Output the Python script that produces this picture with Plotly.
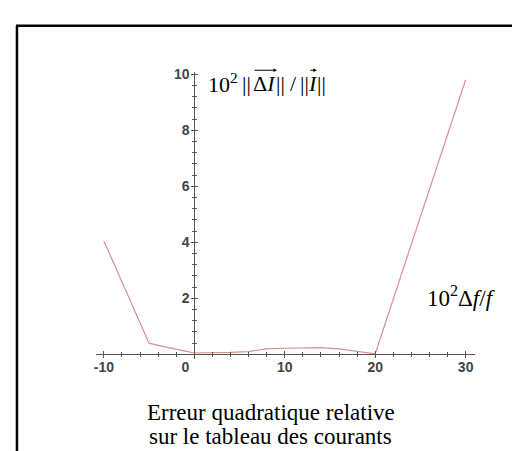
import plotly.graph_objects as go

# Data
x_vals = [-10, -5, -4, -2, -1, 0, 2, 4, 6, 8, 10, 12, 14, 16, 18, 20, 30]
y_vals = [4.05, 0.4, 0.32, 0.2, 0.12, 0.05, 0.05, 0.07, 0.1, 0.2, 0.22, 0.24, 0.24, 0.2, 0.12, 0.02, 9.8]

x_ticks = [-10, 10, 20, 30]
x_tick_labels = ["-10", "10", "20", "30"]
x_zero_tick = [0]
x_zero_label = ["0"]
y_ticks = [2, 4, 6, 8, 10]
y_tick_labels = ["2", "4", "6", "8", "10"]

caption_1 = "Erreur quadratique relative"
caption_2 = "sur le tableau des courants"

W, H = 520, 451
# pixel geometry
x0_px, x_scale = 185.0, 9.08      # pixel of x=0, px per unit
y0_px, y_scale = 345.0, 28.4      # pixel of y=0, px per unit
px_l, px_r = 86.0, 467.0
py_t, py_b = 59.0, 350.0

xr = [(px_l - x0_px) / x_scale, (px_r - x0_px) / x_scale]
yr = [(y0_px - py_b) / y_scale, (y0_px - py_t) / y_scale]
xdom = [px_l / W, px_r / W]
ydom = [(H - py_b) / H, (H - py_t) / H]
xpos = (H - y0_px) / H
ypos = x0_px / W


def px(x):
    return x / W


def py(y):
    return (H - y) / H


axis_col = "#555555"
tick_font = dict(family="Liberation Sans", size=14, color="#444444")
serif = "Liberation Serif"

fig = go.Figure()
fig.add_trace(go.Scatter(x=x_vals, y=y_vals, mode="lines",
                         line=dict(color="#d89090", width=1.2),
                         hoverinfo="skip", showlegend=False))
for ax_x, ax_y in (("x2", "y2"), ("x3", "y2")):
    fig.add_trace(go.Scatter(x=[xr[0]], y=[yr[0]], xaxis=ax_x, yaxis=ax_y,
                             mode="markers", marker=dict(opacity=0, size=1),
                             hoverinfo="skip", showlegend=False))

common_x = dict(range=xr, domain=xdom, showgrid=False, zeroline=False,
                showline=True, linecolor=axis_col, linewidth=1,
                anchor="free", position=xpos, tickcolor=axis_col,
                tickvals=x_ticks + x_zero_tick, ticklen=3, tickwidth=1)
common_y = dict(range=yr, domain=ydom, showgrid=False, zeroline=False,
                showline=True, linecolor=axis_col, linewidth=1,
                anchor="free", position=ypos, tickcolor=axis_col,
                tickvals=y_ticks, ticklen=3, tickwidth=1)

bold = lambda s: "<b>" + s + "</b>"

fig.update_layout(
    width=W, height=H,
    margin=dict(l=0, r=0, t=0, b=0),
    paper_bgcolor="white", plot_bgcolor="white",
    xaxis=dict(**{**common_x, "tickvals": x_ticks}, ticks="outside",
               ticktext=[bold(t) for t in x_tick_labels],
               tickfont=tick_font, ticklabelstandoff=-3,
               minor=dict(dtick=2, ticks="outside", ticklen=2,
                          tickcolor=axis_col, tickwidth=1)),
    yaxis=dict(**common_y, ticks="outside",
               ticktext=[bold(t) for t in y_tick_labels],
               tickfont=tick_font, ticklabelstandoff=-1,
               minor=dict(dtick=0.4, ticks="outside", ticklen=2,
                          tickcolor=axis_col, tickwidth=1)),
    xaxis2=dict(**common_x, ticks="inside", showticklabels=False,
                overlaying="x",
                minor=dict(dtick=2, ticks="inside", ticklen=2,
                           tickcolor=axis_col, tickwidth=1)),
    xaxis3=dict(**{**common_x, "tickvals": x_zero_tick, "showline": False},
                ticks="outside", overlaying="x",
                ticktext=[bold(t) for t in x_zero_label],
                tickfont=tick_font, ticklabelstandoff=-3,
                ticklabelshift=-9),
    yaxis2=dict(**common_y, ticks="inside", showticklabels=False,
                overlaying="y",
                minor=dict(dtick=0.4, ticks="inside", ticklen=2,
                           tickcolor=axis_col, tickwidth=1)),
    shapes=[
        dict(type="line", xref="paper", yref="paper",
             x0=px(6), x1=1.0, y0=py(12), y1=py(12),
             line=dict(color="black", width=2.5)),
        dict(type="line", xref="paper", yref="paper",
             x0=px(7), x1=px(7), y0=0, y1=py(12),
             line=dict(color="black", width=2.5)),
    ],
)

# y-axis title pieces: 10^2 ||dI|| / ||I||
title_pieces = [
    ("10<sup>2</sup>", 197, "left", 22),
    ("||", 237, "center", 22),
    ("Δ<i>I</i>", 255, "center", 22),
    ("||", 272, "center", 22),
    ("/", 285, "center", 22),
    ("||", 296, "center", 22),
    ("<i>I</i>", 304, "center", 22),
    ("||", 313, "center", 22),
]
for txt, xx, anc, sz in title_pieces:
    fig.add_annotation(text=txt, xref="paper", yref="paper",
                       x=px(xx), y=py(70), xanchor=anc, yanchor="middle",
                       showarrow=False,
                       font=dict(family=serif, size=sz, color="black"))
# vector arrows above dI and I
for tip, length in ((268, 24), (308, 8)):
    fig.add_annotation(text="", xref="paper", yref="paper",
                       x=px(tip), y=py(57), ax=-length, ay=0,
                       showarrow=True, arrowhead=2, arrowsize=0.7,
                       arrowwidth=1, arrowcolor="black")

fig.add_annotation(text="10<sup>2</sup>Δ<i>f</i>/<i>f</i>",
                   xref="paper", yref="paper",
                   x=px(417), y=py(286), xanchor="left", yanchor="middle",
                   showarrow=False,
                   font=dict(family=serif, size=23, color="black"))
fig.add_annotation(text=caption_1, xref="paper", yref="paper",
                   x=px(262), y=py(404), xanchor="center", yanchor="middle",
                   showarrow=False,
                   font=dict(family=serif, size=23, color="black"))
fig.add_annotation(text=caption_2, xref="paper", yref="paper",
                   x=px(262), y=py(428), xanchor="center", yanchor="middle",
                   showarrow=False,
                   font=dict(family=serif, size=23, color="black"))

fig.write_html("out.html")
